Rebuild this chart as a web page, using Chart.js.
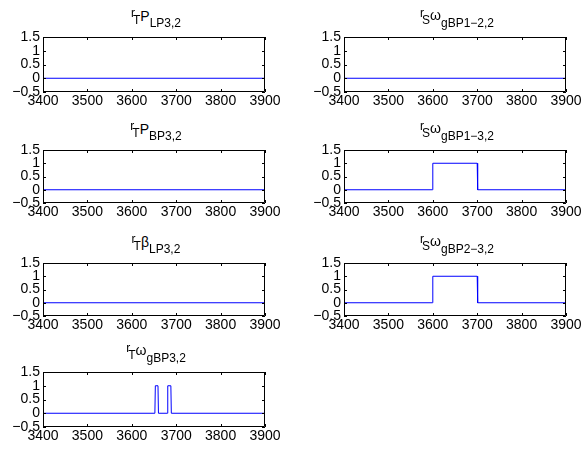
<!DOCTYPE html>
<html><head><meta charset="utf-8">
<script src="https://cdn.jsdelivr.net/npm/chart.js@4"></script>
<style>
html,body{margin:0;padding:0;background:#fff;overflow:hidden;width:582px;height:455px;position:relative;}
canvas{position:absolute;}
.t{position:absolute;height:20px;line-height:20px;font-family:"Liberation Sans",Arial,sans-serif;font-size:14px;white-space:nowrap;text-align:center;color:#000;}
.s{font-size:12px;position:relative;}
</style></head><body>
<script>
// ---- data ----
const xTicks = [3400, 3500, 3600, 3700, 3800, 3900];
const yTicks = [-0.5, 0, 0.5, 1, 1.5];
const flatX = [3400, 3900];
const flatY = [0, 0];
const bandX = [3400, 3599, 3600, 3700, 3701, 3900];
const bandY = [0, 0, 1, 1, 0, 0];
const twinX = [3400, 3652, 3653, 3659, 3660, 3680, 3681, 3688, 3689, 3900];
const twinY = [0, 0, 1, 1, 0, 0, 1, 1, 0, 0];
// titles: [pre-superscript, pre-subscript, base, subscript]
const titleTLP = ['r', 'T', 'P', 'LP3,2'];
const titleTBP = ['r', 'T', 'P', 'BP3,2'];
const titleTBeta = ['r', 'T', 'β', 'LP3,2'];
const titleTOmega = ['r', 'T', 'ω', 'gBP3,2'];
const titleS12 = ['r', 'S', 'ω', 'gBP1−2,2'];
const titleS13 = ['r', 'S', 'ω', 'gBP1−3,2'];
const titleS23 = ['r', 'S', 'ω', 'gBP2−3,2'];

const panels = [
  {col: 0, row: 0, title: titleTLP, xs: flatX, ys: flatY},
  {col: 1, row: 0, title: titleS12, xs: flatX, ys: flatY},
  {col: 0, row: 1, title: titleTBP, xs: flatX, ys: flatY},
  {col: 1, row: 1, title: titleS13, xs: bandX, ys: bandY},
  {col: 0, row: 2, title: titleTBeta, xs: flatX, ys: flatY},
  {col: 1, row: 2, title: titleS23, xs: bandX, ys: bandY},
  {col: 0, row: 3, title: titleTOmega, xs: twinX, ys: twinY}
];

// ---- layout ----
const colLeft = [43, 344];
const boxW = 222;
const rowTop = [37, 150, 263, 372];
const rowH = [55, 53, 53, 55];
const axW = 43, padTop = 8, padRight = 30, axH = 24;
const FONT = '"Liberation Sans", Arial, sans-serif';

const boxPlugin = {
  id: 'box',
  afterDraw(chart) {
    const {ctx, chartArea: a, scales} = chart;
    ctx.save();
    ctx.strokeStyle = '#000';
    ctx.lineWidth = 1;
    ctx.beginPath();
    ctx.rect(Math.round(a.left) + 0.5, Math.round(a.top) + 0.5,
             Math.round(a.right) - Math.round(a.left) - 1, Math.round(a.bottom) - Math.round(a.top) - 1);
    const tl = 3;
    xTicks.forEach(v => {
      const px = Math.round(scales.x.getPixelForValue(v)) + 0.5;
      ctx.moveTo(px, a.bottom); ctx.lineTo(px, a.bottom - tl);
      ctx.moveTo(px, a.top); ctx.lineTo(px, a.top + tl);
    });
    yTicks.forEach(v => {
      const py = Math.round(scales.y.getPixelForValue(v)) + 0.5;
      ctx.moveTo(a.left, py); ctx.lineTo(a.left + tl, py);
      ctx.moveTo(a.right, py); ctx.lineTo(a.right - tl, py);
    });
    ctx.stroke();
    ctx.restore();
  }
};

function titleHTML(t) {
  const lift = (t[2] === 'ω') ? 'position:relative;top:-1px;' : '';
  return '<span class="s" style="top:-4px">' + t[0] + '</span>' +
         '<span class="s" style="top:3px;margin-left:-2px">' + t[1] + '</span>' +
         '<span style="' + lift + '">' + t[2] + '</span>' +
         '<span class="s" style="top:6px">' + t[3] + '</span>';
}

panels.forEach(p => {
  const bl = colLeft[p.col], bt = rowTop[p.row], bh = rowH[p.row];
  const cv = document.createElement('canvas');
  const W = axW + boxW + padRight, H = padTop + bh + axH;
  cv.width = W; cv.height = H;
  cv.style.left = (bl - axW) + 'px';
  cv.style.top = (bt - padTop) + 'px';
  cv.style.width = W + 'px'; cv.style.height = H + 'px';
  document.body.appendChild(cv);

  const tdiv = document.createElement('div');
  tdiv.className = 't';
  tdiv.style.left = (bl + 2) + 'px';
  tdiv.style.width = boxW + 'px';
  tdiv.style.top = (bt - 31) + 'px';
  tdiv.innerHTML = titleHTML(p.title);
  document.body.appendChild(tdiv);

  const pts = p.xs.map((x, i) => ({x: x, y: p.ys[i]}));
  new Chart(cv, {
    type: 'line',
    data: {datasets: [{data: pts, borderColor: '#0000ff', borderWidth: 1, pointRadius: 0, tension: 0, fill: false}]},
    options: {
      responsive: false, animation: false, devicePixelRatio: 1,
      layout: {padding: {top: padTop, right: padRight, bottom: 0, left: 0}},
      plugins: {legend: {display: false}, tooltip: {enabled: false}, title: {display: false}},
      scales: {
        x: {
          type: 'linear', min: 3400, max: 3900,
          afterBuildTicks: s => { s.ticks = xTicks.map(v => ({value: v})); },
          afterFit: s => { s.height = axH; s.paddingLeft = 0; s.paddingRight = 0; },
          grid: {display: false, drawTicks: false}, border: {display: false},
          ticks: {color: '#000', font: {family: FONT, size: 14, lineHeight: 1}, padding: 2,
                  maxRotation: 0, autoSkip: false, callback: v => String(v)}
        },
        y: {
          type: 'linear', min: -0.5, max: 1.5,
          afterBuildTicks: s => { s.ticks = yTicks.map(v => ({value: v})); },
          afterFit: s => { s.width = axW; s.paddingTop = 0; s.paddingBottom = 0; },
          grid: {display: false, drawTicks: false}, border: {display: false},
          ticks: {color: '#000', font: {family: FONT, size: 14, lineHeight: 1}, padding: 3,
                  autoSkip: false, callback: v => (v < 0 ? '−' : '') + String(Math.abs(v))}
        }
      }
    },
    plugins: [boxPlugin]
  });
});
</script>
</body></html>
